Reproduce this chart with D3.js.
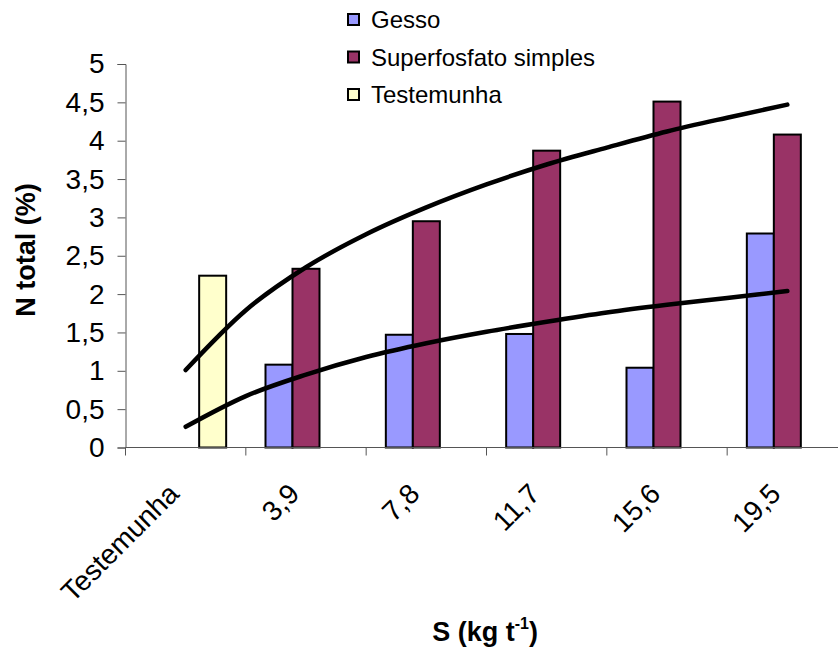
<!DOCTYPE html>
<html>
<head>
<meta charset="utf-8">
<script src="https://cdn.jsdelivr.net/npm/d3@7"></script>
<style>
  body { margin: 0; background: #fff; }
  svg { display: block; font-family: "Liberation Sans", Arial, sans-serif; }
</style>
</head>
<body>
<div id="plot"></div>
<script>
// categories on the x axis
const categories = ['Testemunha', '3,9', '7,8', '11,7', '15,6', '19,5'];
const seriesNames = ['Gesso', 'Superfosfato simples', 'Testemunha'];
const seriesColors = ['#9999FF', '#993366', '#FFFFCC'];

// bar values, null = no bar
const gesso = [null, 1.08, 1.47, 1.48, 1.04, 2.79];
const superfosfato = [null, 2.33, 2.95, 3.87, 4.51, 4.08];
const testemunha = [2.24, null, null, null, null, null];

// trend curves (position in category units, value)
const trendPos = [0, 0.5, 1, 1.5, 2, 2.5, 3, 3.5, 4, 4.5, 5];
const trendSuper = [1.01, 1.79, 2.35, 2.78, 3.13, 3.43, 3.69, 3.91, 4.12, 4.30, 4.47];
const trendGesso = [0.27, 0.67, 0.95, 1.18, 1.36, 1.51, 1.64, 1.76, 1.86, 1.95, 2.04];

const yTicks = [0, 0.5, 1, 1.5, 2, 2.5, 3, 3.5, 4, 4.5, 5];

const W = 838, H = 650;
const margin = { left: 125.5, top: 64 };
const plotRight = 847.5;

const svg = d3.select('#plot').append('svg')
  .attr('width', W).attr('height', H);

const x = d3.scaleBand().domain(d3.range(categories.length))
  .range([margin.left, plotRight]);
const xs = d3.scaleBand().domain(d3.range(3))
  .range([0, 81]);
const y = d3.scaleLinear().domain([0, 5]).range([447.5, margin.top]);
const fmt = function(v) { return String(v).replace('.', ','); };

const series = [gesso, superfosfato, testemunha];

// bars
series.forEach(function(vals, si) {
  svg.append('g').selectAll('rect')
    .data(vals.map(function(v, i) { return { v: v, i: i }; }).filter(function(d) { return d.v != null; }))
    .enter().append('rect')
    .attr('x', function(d) { return x(d.i) + x.bandwidth() / 2 - 40.5 + xs(si); })
    .attr('y', function(d) { return y(d.v); })
    .attr('width', xs.bandwidth())
    .attr('height', function(d) { return y(0) - y(d.v); })
    .attr('fill', seriesColors[si])
    .attr('stroke', '#000')
    .attr('stroke-width', 2);
});

// axes
const yAxis = svg.append('g')
  .attr('transform', 'translate(' + margin.left + ',0)')
  .call(d3.axisLeft(y).tickValues(yTicks).tickSize(8).tickPadding(13).tickFormat(fmt));
yAxis.selectAll('text').attr('font-size', 28).attr('fill', '#000')
  .style('font-family', '"Liberation Sans", Arial, sans-serif');
yAxis.selectAll('line, path').attr('stroke', '#555');

const xAxis = svg.append('g')
  .attr('transform', 'translate(0,' + y(0) + ')');
xAxis.append('line').attr('x1', margin.left).attr('x2', plotRight)
  .attr('stroke', '#555');
xAxis.selectAll('line.tick')
  .data(d3.range(categories.length + 1))
  .enter().append('line').attr('class', 'tick')
  .attr('x1', function(i) { return margin.left + i * x.step(); })
  .attr('x2', function(i) { return margin.left + i * x.step(); })
  .attr('y1', 0).attr('y2', 8)
  .attr('stroke', '#555');
xAxis.selectAll('text')
  .data(categories)
  .enter().append('text')
  .attr('transform', function(d, i) {
    return 'translate(' + (x(i) + x.bandwidth() / 2 - 12) + ',41) rotate(-45)';
  })
  .attr('text-anchor', 'end')
  .attr('dy', '0.35em')
  .attr('font-size', 28)
  .text(function(d) { return d; });

// trend curves
const line = d3.line()
  .x(function(d) { return margin.left + x.step() / 2 + d[0] * x.step(); })
  .y(function(d) { return y(d[1]); })
  .curve(d3.curveMonotoneX);
[trendSuper, trendGesso].forEach(function(vals) {
  svg.append('path')
    .datum(trendPos.map(function(p, i) { return [p, vals[i]]; }))
    .attr('d', line)
    .attr('fill', 'none')
    .attr('stroke', '#000')
    .attr('stroke-width', 4.5)
    .attr('stroke-linecap', 'round');
});

// legend
const legend = svg.append('g').attr('transform', 'translate(348,20)');
seriesNames.forEach(function(name, i) {
  const row = legend.append('g').attr('transform', 'translate(0,' + (i * 37.5) + ')');
  row.append('rect').attr('x', 0).attr('y', -6).attr('width', 11).attr('height', 11)
    .attr('fill', seriesColors[i]).attr('stroke', '#000').attr('stroke-width', 2);
  row.append('text').attr('x', 23).attr('dy', '0.35em')
    .attr('font-size', 24).text(name);
});

// axis titles
svg.append('text')
  .attr('transform', 'translate(35,250) rotate(-90)')
  .attr('text-anchor', 'middle')
  .attr('font-size', 27).attr('font-weight', 'bold')
  .text('N total (%)');

const xt = svg.append('text')
  .attr('x', 485).attr('y', 641)
  .attr('text-anchor', 'middle')
  .attr('font-size', 27).attr('font-weight', 'bold');
xt.append('tspan').text('S (kg t');
xt.append('tspan').attr('font-size', 16).attr('dy', -12).text('-1');
xt.append('tspan').attr('dy', 12).text(')');
</script>
</body>
</html>
